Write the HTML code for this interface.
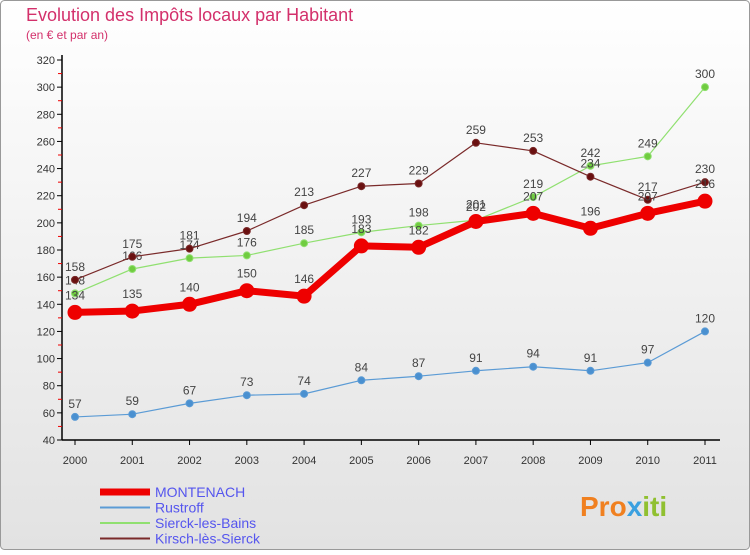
<!DOCTYPE html>
<html><head><meta charset="utf-8"><style>
body{margin:0;width:750px;height:550px;overflow:hidden;font-family:"Liberation Sans",sans-serif}
</style></head><body>
<svg width="750" height="550" viewBox="0 0 750 550" xmlns="http://www.w3.org/2000/svg">
<defs><linearGradient id="bg" x1="0" y1="0" x2="0" y2="1"><stop offset="0" stop-color="#ffffff"/><stop offset="1" stop-color="#e2e2e2"/></linearGradient></defs>
<rect x="0.5" y="0.5" width="749" height="549" rx="4" fill="url(#bg)" stroke="#999"/>
<text x="26" y="21" font-size="18" fill="#d3306b">Evolution des Impôts locaux par Habitant</text>
<text x="26" y="39" font-size="12" fill="#d3306b">(en € et par an)</text>
<g id="axes"></g><g id="series"></g><g id="legend"></g>
<text x="580" y="516" font-size="28" font-weight="bold" fill="#f08020">Pro<tspan fill="#3aa0e0">x</tspan><tspan fill="#90c030">iti</tspan></text>
</svg>
<script>
const years=[2000,2001,2002,2003,2004,2005,2006,2007,2008,2009,2010,2011];
const yTicks=[40,60,80,100,120,140,160,180,200,220,240,260,280,300,320];
const montenach=[134,135,140,150,146,183,182,201,207,196,207,216];
const rustroff=[57,59,67,73,74,84,87,91,94,91,97,120];
const sierck=[148,166,174,176,185,193,198,202,219,242,249,300];
const kirsch=[158,175,181,194,213,227,229,259,253,234,217,230];
const NS="http://www.w3.org/2000/svg";
const xs=i=>75+i*(630/11);
const ys=v=>440-(v-40)*(380/280);
function mk(t,a,p){const e=document.createElementNS(NS,t);for(const k in a)e.setAttribute(k,a[k]);(p||document.getElementById('series')).appendChild(e);return e;}
const ax=document.getElementById('axes');
let e=mk('line',{x1:62,y1:55,x2:62,y2:440,stroke:'#000','stroke-width':1.5},ax);

e=mk('line',{x1:62,y1:440,x2:720,y2:440,stroke:'#000','stroke-width':1.5},ax);

yTicks.forEach((v,i)=>{const y=ys(v);
 mk('line',{x1:57,y1:y,x2:62,y2:y,stroke:'#000'},ax);
 if(i<yTicks.length-1)mk('line',{x1:58,y1:ys(v+10),x2:62,y2:ys(v+10),stroke:'#e00'},ax);
 const t=mk('text',{x:55,y:y+4,'font-size':11,'text-anchor':'end',fill:'#333'},ax);t.textContent=v;
 });
years.forEach((yr,i)=>{const x=xs(i);
 mk('line',{x1:x,y1:440,x2:x,y2:445,stroke:'#000'},ax);
 const t=mk('text',{x:x,y:464,'font-size':11,'text-anchor':'middle',fill:'#333'},ax);t.textContent=yr;
 });
function series(name,data,color,w,r,fill,labOff){
 const g=mk('g',{});
 mk('polyline',{points:data.map((v,i)=>xs(i)+','+ys(v)).join(' '),fill:'none',stroke:color,'stroke-width':w,'stroke-linejoin':'round'},g);
 data.forEach((v,i)=>{const c=mk('circle',{cx:xs(i),cy:ys(v),r:r,fill:fill,stroke:color,'stroke-width':1},g);
  
  const t=mk('text',{x:xs(i),y:ys(v)-labOff,'font-size':12,'text-anchor':'middle',fill:'#444'},g);t.textContent=v;
  });
}
series('rustroff',rustroff,'#5b9bd5',1.2,3.5,'#4a90d0',9);
series('sierck',sierck,'#90e070',1.2,3.5,'#70cc40',9);
series('kirsch',kirsch,'#7a2a2a',1.2,3.5,'#6a1010',9);
series('montenach',montenach,'#ee0000',7,7,'#ee0000',13);
const lg=document.getElementById('legend');
const items=[['MONTENACH','#ee0000',7],['Rustroff','#5b9bd5',2],['Sierck-les-Bains','#90e070',2],['Kirsch-lès-Sierck','#7a2a2a',2]];
items.forEach((it,i)=>{const y=492+i*15.5;
 const g=mk('g',{},lg);
 mk('line',{x1:100,y1:y,x2:150,y2:y,stroke:it[1],'stroke-width':it[2]},g);
 const t=mk('text',{x:155,y:y+5,'font-size':14,fill:'#5555ee'},g);t.textContent=it[0];});
</script>
</body></html>
